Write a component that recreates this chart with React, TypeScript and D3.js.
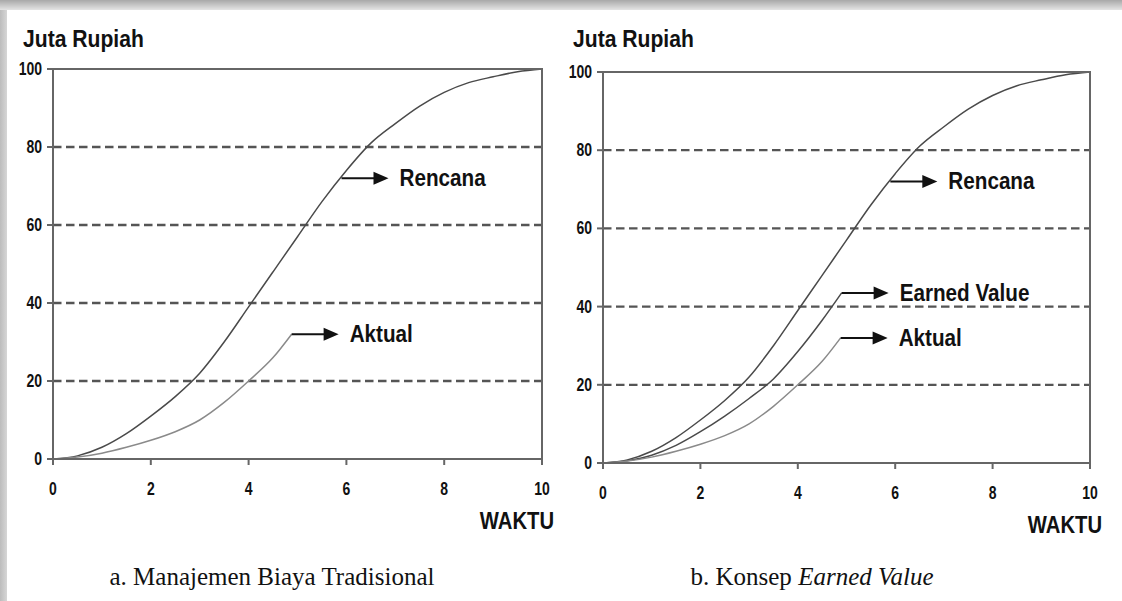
import React from 'react';
import * as d3 from 'd3';

// waktu (x) and juta rupiah (y)
const timeRencana = [0, 0.5, 1, 1.5, 2, 2.5, 3, 3.5, 4, 4.5, 5, 5.5, 6, 6.5, 7, 7.5, 8, 8.5, 9, 9.5, 10];
const rencana = [0, 0.8, 3, 6.5, 11, 16, 22, 30, 39, 48, 57, 66, 74, 81, 86, 90.5, 94, 96.5, 98, 99.3, 100];
const timeAktual = [0, 0.5, 1, 1.5, 2, 2.5, 3, 3.5, 4, 4.5, 4.88];
const aktual = [0, 0.5, 1.5, 3, 4.8, 7, 10, 14.5, 20, 26, 32];
const timeEarned = [0, 0.5, 1, 1.5, 2, 2.5, 3, 3.5, 4, 4.5, 4.9];
const earned = [0, 0.6, 2, 4.5, 8, 12, 16.5, 21.5, 28.5, 36.5, 43.5];
const rencanaTag = [5.9, 72];

const xTicks = [0, 2, 4, 6, 8, 10];
const yTicks = [0, 20, 40, 60, 80, 100];
const gridValues = [20, 40, 60, 80];

const SANS = '"Liberation Sans", Arial, sans-serif';
const SERIF = '"Liberation Serif", "DejaVu Serif", serif';

type Box = { left: number; right: number; top: number; bottom: number };
type Series = { name: string; xs: number[]; ys: number[]; color: string; tag?: number[] };

// bold sans text, squeezed a little horizontally like the scan
function Sq({ x, y, size, anchor = 'start', sx = 0.88, children }: any) {
  return (
    <text
      transform={`translate(${x},${y}) scale(${sx},1)`}
      textAnchor={anchor}
      fontFamily={SANS}
      fontWeight="bold"
      fontSize={size}
      fill="#111"
    >
      {children}
    </text>
  );
}

function Panel({ box, series }: { box: Box; series: Series[] }) {
  const x = d3.scaleLinear().domain([0, 10]).range([box.left, box.right]);
  const y = d3.scaleLinear().domain([0, 100]).range([box.bottom, box.top]);
  const line = d3
    .line<[number, number]>()
    .x(d => x(d[0]))
    .y(d => y(d[1]))
    .curve(d3.curveMonotoneX);

  return (
    <g>
      <Sq x={box.left - 30} y={47} size={24}>Juta Rupiah</Sq>

      {gridValues.map(v => (
        <line key={v} x1={x(0)} x2={x(10)} y1={y(v)} y2={y(v)}
          stroke="#555" strokeWidth={2.3} strokeDasharray="8.5 4.5" />
      ))}

      {series.map(s => (
        <path key={s.name} d={line(s.xs.map((t, i) => [t, s.ys[i]]) as [number, number][]) || ''}
          fill="none" stroke={s.color} strokeWidth={1.5} />
      ))}

      <rect x={x(0)} y={y(100)} width={x(10) - x(0)} height={y(0) - y(100)}
        fill="none" stroke="#666" strokeWidth={2} />

      {yTicks.map(v => (
        <g key={v}>
          <line x1={x(0) - 6} x2={x(0)} y1={y(v)} y2={y(v)} stroke="#666" strokeWidth={2} />
          <Sq x={x(0) - 11} y={y(v) + 6} size={17.5} anchor="end" sx={0.8}>{v}</Sq>
        </g>
      ))}
      {xTicks.map(v => (
        <g key={v}>
          <line x1={x(v)} x2={x(v)} y1={y(0)} y2={y(0) + 6} stroke="#666" strokeWidth={2} />
          <Sq x={x(v)} y={y(0) + 36} size={17.5} anchor="middle" sx={0.8}>{v}</Sq>
        </g>
      ))}

      <Sq x={x(10) + 12} y={y(0) + 70} size={23} anchor="end">WAKTU</Sq>

      {series.map(s => {
        const tx = s.tag ? s.tag[0] : s.xs[s.xs.length - 1];
        const ty = s.tag ? s.tag[1] : s.ys[s.ys.length - 1];
        const ax = x(tx);
        const ay = y(ty);
        return (
          <g key={s.name + '-tag'}>
            <line x1={ax} x2={ax + 34} y1={ay} y2={ay} stroke="#111" strokeWidth={2} />
            <path d={`M${ax + 32},${ay - 6.5}L${ax + 47},${ay}L${ax + 32},${ay + 6.5}Z`} fill="#111" />
            <Sq x={ax + 58} y={ay + 8} size={23.5}>{s.name}</Sq>
          </g>
        );
      })}
    </g>
  );
}

export default function App() {
  const left: Box = { left: 53, right: 542, top: 69, bottom: 459 };
  const right: Box = { left: 603, right: 1090, top: 72, bottom: 463 };

  const seriesA: Series[] = [
    { name: 'Rencana', xs: timeRencana, ys: rencana, color: '#4a4a4a', tag: rencanaTag },
    { name: 'Aktual', xs: timeAktual, ys: aktual, color: '#8a8a8a' },
  ];
  const seriesB: Series[] = [
    { name: 'Rencana', xs: timeRencana, ys: rencana, color: '#4a4a4a', tag: rencanaTag },
    { name: 'Earned Value', xs: timeEarned, ys: earned, color: '#4a4a4a' },
    { name: 'Aktual', xs: timeAktual, ys: aktual, color: '#8a8a8a' },
  ];

  return (
    <svg width={1122} height={601} style={{ position: 'absolute', left: 0, top: 0, background: '#fff' }}>
      <defs>
        <linearGradient id="topShade" x1="0" y1="0" x2="0" y2="1">
          <stop offset="0" stopColor="#a8a8a8" />
          <stop offset="1" stopColor="#e4e4e4" />
        </linearGradient>
        <linearGradient id="leftShade" x1="0" y1="0" x2="1" y2="0">
          <stop offset="0" stopColor="#bcbcbc" />
          <stop offset="1" stopColor="#d6d6d6" />
        </linearGradient>
      </defs>
      <rect x={0} y={0} width={1122} height={10} fill="url(#topShade)" />
      <rect x={0} y={10} width={7} height={591} fill="url(#leftShade)" />

      <Panel box={left} series={seriesA} />
      <Panel box={right} series={seriesB} />

      <text x={272} y={585} textAnchor="middle" fontFamily={SERIF} fontSize={25} fill="#111">
        a. Manajemen Biaya Tradisional
      </text>
      <text x={812} y={585} textAnchor="middle" fontFamily={SERIF} fontSize={25} fill="#111">
        b. Konsep <tspan fontStyle="italic">Earned Value</tspan>
      </text>
    </svg>
  );
}
